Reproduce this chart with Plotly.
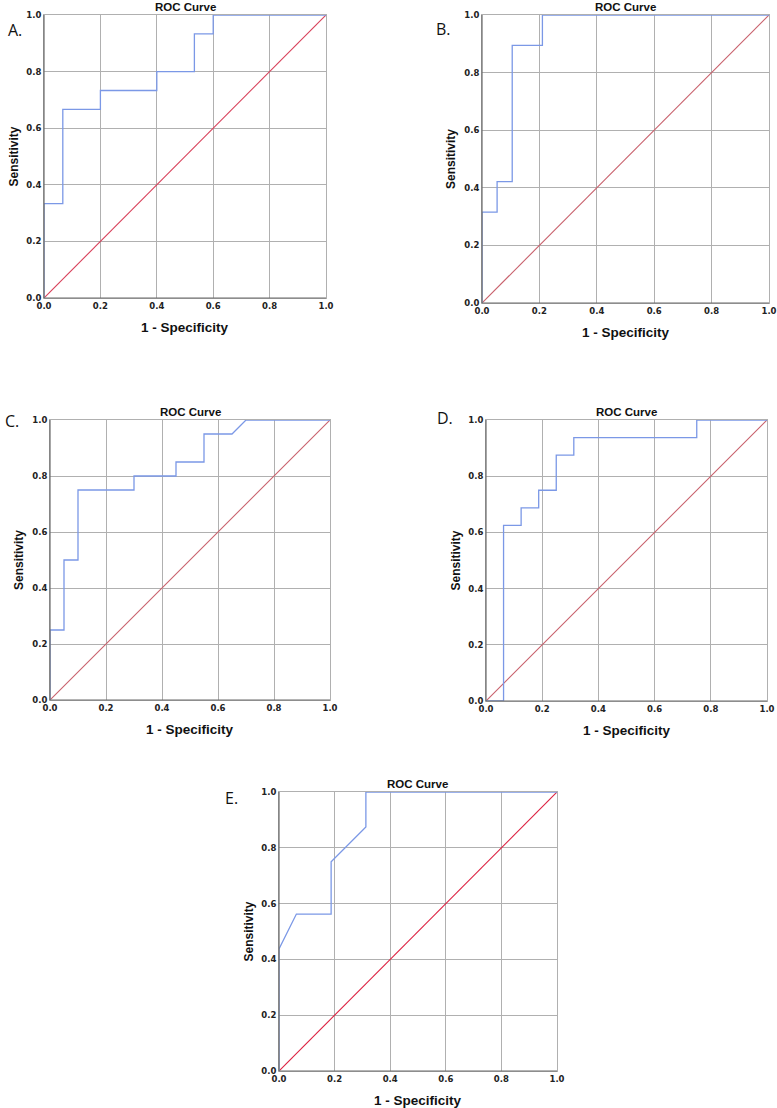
import plotly.graph_objects as go

W, H = 777, 1108

# ROC vertices (1 - specificity, sensitivity)
a_fpr = [0, 0, 0.0667, 0.0667, 0.2, 0.2, 0.4, 0.4, 0.5333, 0.5333, 0.6, 0.6, 1.0]
a_tpr = [0, 0.3333, 0.3333, 0.6667, 0.6667, 0.7333, 0.7333, 0.8, 0.8, 0.9333, 0.9333, 1.0, 1.0]

b_fpr = [0, 0, 0.0526, 0.0526, 0.1053, 0.1053, 0.2105, 0.2105, 1.0]
b_tpr = [0, 0.3158, 0.3158, 0.4211, 0.4211, 0.8947, 0.8947, 1.0, 1.0]

c_fpr = [0, 0, 0.05, 0.05, 0.1, 0.1, 0.3, 0.3, 0.45, 0.45, 0.55, 0.55, 0.65, 0.7, 1.0]
c_tpr = [0, 0.25, 0.25, 0.5, 0.5, 0.75, 0.75, 0.8, 0.8, 0.85, 0.85, 0.95, 0.95, 1.0, 1.0]

d_fpr = [0, 0.0625, 0.0625, 0.125, 0.125, 0.1875, 0.1875, 0.25, 0.25, 0.3125, 0.3125, 0.75, 0.75, 1.0]
d_tpr = [0, 0, 0.625, 0.625, 0.6875, 0.6875, 0.75, 0.75, 0.875, 0.875, 0.9375, 0.9375, 1.0, 1.0]

e_fpr = [0, 0, 0.0625, 0.1875, 0.1875, 0.3125, 0.3125, 1.0]
e_tpr = [0, 0.4375, 0.5625, 0.5625, 0.75, 0.875, 1.0, 1.0]

ref_line = [0, 1]
tick_vals = [0, 0.2, 0.4, 0.6, 0.8, 1.0]
tick_text = ["0.0", "0.2", "0.4", "0.6", "0.8", "1.0"]

panels = [
    # label, fpr, tpr, (x0,x1,ytop,ybottom) pixels, diag color, label pos
    ("A.", a_fpr, a_tpr, (44, 326, 15, 298), "#d8405a", (15, 30)),
    ("B.", b_fpr, b_tpr, (482, 769, 15, 303), "#c8606c", (443, 29)),
    ("C.", c_fpr, c_tpr, (50, 330, 420, 700), "#c8606c", (12, 421)),
    ("D.", d_fpr, d_tpr, (486, 767, 420, 701), "#c8606c", (445, 418)),
    ("E.", e_fpr, e_tpr, (279, 557, 792, 1071), "#dc2040", (231, 798)),
]

FONT = "Liberation Sans, Arial, sans-serif"
TICKFONT = "DejaVu Sans, sans-serif"
fig = go.Figure()
annotations = []
shapes = []

for i, (lab, fx, ty, (x0, x1, yt, yb), dcol, (lx, ly)) in enumerate(panels):
    n = "" if i == 0 else str(i + 1)
    xa, ya = "x" + n, "y" + n
    fig.add_trace(go.Scatter(x=ref_line, y=ref_line, mode="lines",
                             line=dict(color=dcol, width=1.1),
                             xaxis=xa, yaxis=ya, showlegend=False, hoverinfo="skip"))
    fig.add_trace(go.Scatter(x=fx, y=ty, mode="lines",
                             line=dict(color="#7b98e6", width=1.3),
                             xaxis=xa, yaxis=ya, showlegend=False))
    axcommon = dict(range=[0, 1], tickvals=tick_vals,
                    ticktext=["<b>%s</b>" % t for t in tick_text],
                    showgrid=True, gridcolor="#b0b0b0", gridwidth=1,
                    zeroline=False, showline=True, linecolor="#b0b0b0", linewidth=1,
                    mirror=True, ticks="", fixedrange=True, automargin=False,
                    tickfont=dict(family=TICKFONT, size=8.5, color="#222"))
    fig.update_layout({
        ("xaxis" + n): dict(axcommon, domain=[x0 / W, x1 / W], anchor=ya),
        ("yaxis" + n): dict(axcommon, domain=[1 - yb / H, 1 - yt / H], anchor=xa),
    })
    # darker left / bottom axis lines
    shapes.append(dict(type="line", xref="paper", yref="paper",
                       x0=x0 / W, x1=x0 / W, y0=1 - yb / H, y1=1 - yt / H,
                       line=dict(color="#6a6a6a", width=1.2)))
    shapes.append(dict(type="line", xref="paper", yref="paper",
                       x0=x0 / W, x1=x1 / W, y0=1 - yb / H, y1=1 - yb / H,
                       line=dict(color="#6a6a6a", width=1.2)))
    xc = (x0 + x1) / 2
    yc = (yt + yb) / 2
    annotations.append(dict(text="<b>ROC Curve</b>", x=xc / W, y=1 - (yt - 8) / H,
                            xref="paper", yref="paper", showarrow=False,
                            xanchor="center", yanchor="middle",
                            font=dict(family=FONT, size=11.5, color="#111")))
    annotations.append(dict(text="<b>1 - Specificity</b>", x=xc / W, y=1 - (yb + 29) / H,
                            xref="paper", yref="paper", showarrow=False,
                            xanchor="center", yanchor="middle",
                            font=dict(family=FONT, size=13.5, color="#111")))
    annotations.append(dict(text="<b>Sensitivity</b>", x=(x0 - 31) / W, y=1 - yc / H,
                            xref="paper", yref="paper", showarrow=False, textangle=-90,
                            xanchor="center", yanchor="middle",
                            font=dict(family=FONT, size=12, color="#111")))
    annotations.append(dict(text=lab, x=lx / W, y=1 - ly / H,
                            xref="paper", yref="paper", showarrow=False,
                            xanchor="center", yanchor="middle",
                            font=dict(family="Open Sans, sans-serif", size=16, color="#111")))

fig.update_layout(width=W, height=H, margin=dict(l=0, r=0, t=0, b=0),
                  paper_bgcolor="white", plot_bgcolor="white",
                  annotations=annotations, shapes=shapes, showlegend=False)

fig.write_html("out.html", config={"displayModeBar": False},
               post_script="document.body.style.margin='0';document.body.style.overflow='hidden';")
